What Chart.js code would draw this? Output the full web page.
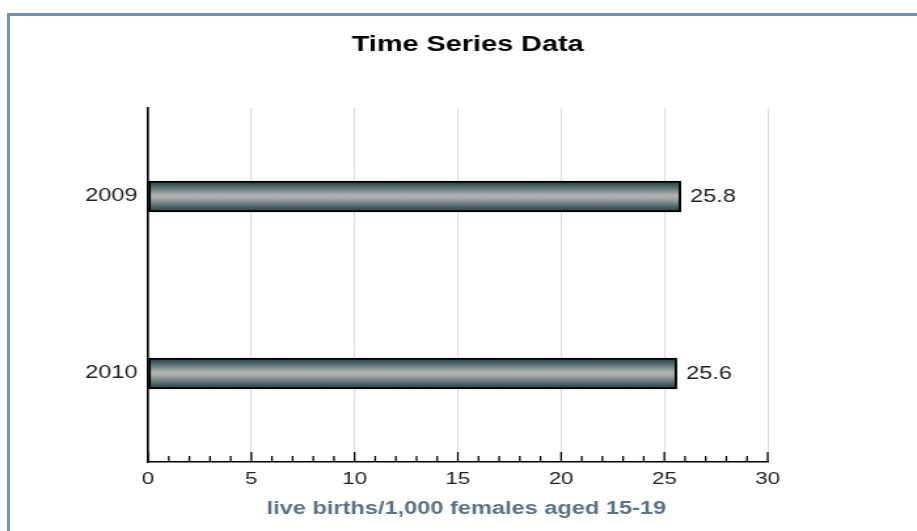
<!DOCTYPE html>
<html>
<head>
<meta charset="utf-8">
<script src="https://cdn.jsdelivr.net/npm/chart.js@4/dist/chart.umd.min.js"></script>
<style>
  html, body { margin: 0; padding: 0; background: #fff; }
  #wrap { position: relative; width: 917px; height: 531px; overflow: hidden; }
  #frame { position: absolute; left: 7px; top: 13px; width: 930px; height: 540px;
           border-left: 3px solid #7191b6; border-top: 3px solid #7191b6; box-sizing: border-box; }
  .stretched { position: absolute; left: 0; top: 0; width: 917px !important; height: 531px !important; }
</style>
</head>
<body>
<div id="wrap">
  <div id="frame"></div>
  <canvas id="c" class="stretched" width="700" height="531"></canvas>
</div>
<script>
const chartTitle = 'Time Series Data';
const axisTitle = 'live births/1,000 females aged 15-19';
const categories = ['2009', '2010'];
const values = [25.8, 25.6];
const xMin = 0, xMax = 30, majorStep = 5, minorStep = 1;

const FONT = 'Arial, "Liberation Sans", sans-serif';

function barGradient(ctx) {
  const chart = ctx.chart;
  if (!chart.chartArea || ctx.type !== 'data') return '#7a8a8c';
  const y = chart.scales.y.getPixelForValue(ctx.dataIndex);
  const h = 31;
  const g = chart.ctx.createLinearGradient(0, y - h / 2, 0, y + h / 2);
  g.addColorStop(0, '#1f393d');
  g.addColorStop(0.2, '#566d70');
  g.addColorStop(0.45, '#afb2b1');
  g.addColorStop(0.55, '#a9acab');
  g.addColorStop(0.8, '#566d70');
  g.addColorStop(1, '#1f393d');
  return g;
}

const decorPlugin = {
  id: 'decor',
  afterDatasetsDraw(chart) {
    const c = chart.ctx, xs = chart.scales.x;
    const base = chart.chartArea.bottom;
    c.save();
    // inward ticks
    c.strokeStyle = '#000';
    c.lineWidth = 1.3;
    for (let v = xMin; v <= xMax; v += minorStep) {
      const x = xs.getPixelForValue(v);
      const len = (v % majorStep === 0) ? 10 : 6;
      c.beginPath();
      c.moveTo(x, base);
      c.lineTo(x, base - len);
      c.stroke();
    }
    // value labels
    c.fillStyle = '#222';
    c.font = '18px ' + FONT;
    c.textAlign = 'left';
    c.textBaseline = 'middle';
    const meta = chart.getDatasetMeta(0);
    meta.data.forEach((bar, i) => {
      c.fillText(values[i].toFixed(1), bar.x + 7, bar.y + 1);
    });
    // chart title
    c.fillStyle = '#000';
    c.font = 'bold 22px ' + FONT;
    c.textAlign = 'center';
    c.fillText(chartTitle, 357, 45);
    // axis title
    c.fillStyle = '#5a7186';
    c.font = 'bold 18px ' + FONT;
    c.fillText(axisTitle, 356, 509);
    c.restore();
  }
};

new Chart(document.getElementById('c'), {
  type: 'bar',
  data: {
    labels: categories,
    datasets: [{
      data: values,
      backgroundColor: barGradient,
      borderColor: '#000',
      borderWidth: 2,
      borderSkipped: false,
      barThickness: 31
    }]
  },
  plugins: [decorPlugin],
  options: {
    indexAxis: 'y',
    responsive: false,
    animation: false,
    devicePixelRatio: 1,
    layout: { padding: { top: 108, right: 114, left: 0, bottom: 0 } },
    plugins: {
      legend: { display: false },
      tooltip: { enabled: false },
      title: { display: false }
    },
    scales: {
      x: {
        min: xMin, max: xMax,
        afterFit(scale) { scale.height = 69; },
        ticks: { stepSize: majorStep, color: '#222', font: { size: 17, family: FONT }, padding: 7 },
        grid: { color: '#dcdcdc', lineWidth: 1, drawTicks: false },
        border: { display: true, color: '#000', width: 1.6 },
        title: { display: false, text: axisTitle }
      },
      y: {
        afterFit(scale) { scale.width = 113; },
        ticks: { color: '#222', font: { size: 18, family: FONT }, padding: 8 },
        grid: { display: false, drawTicks: false },
        border: { display: true, color: '#000', width: 1.6 }
      }
    }
  }
});
</script>
</body>
</html>
